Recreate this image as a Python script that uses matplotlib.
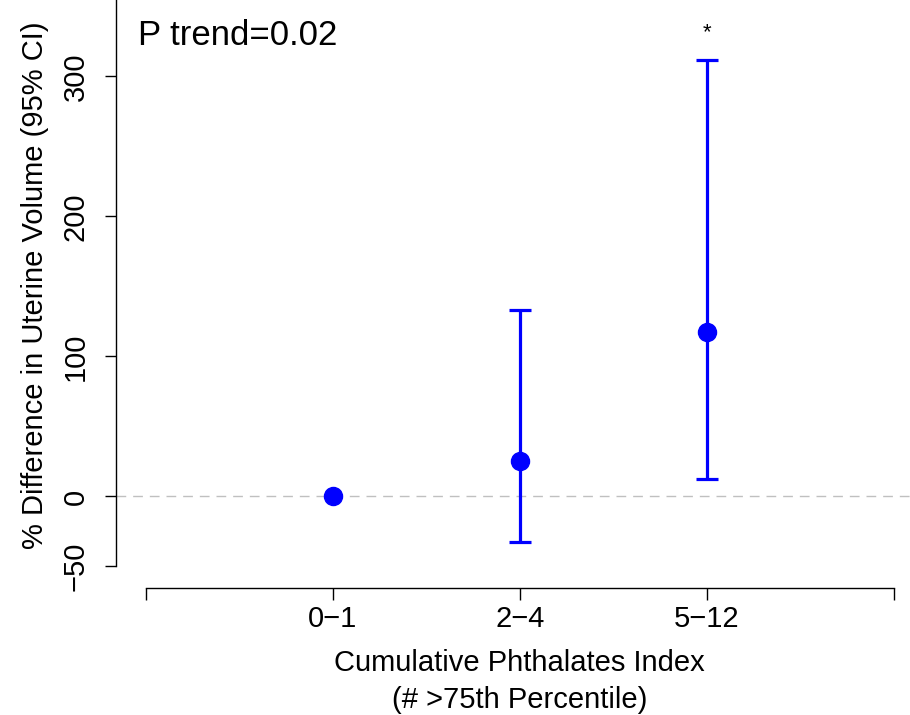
import matplotlib
matplotlib.use('Agg')
import matplotlib.pyplot as plt
import numpy as np

plt.rcParams['font.family'] = ['Liberation Sans', 'DejaVu Sans']

# ── Data ─────────────────────────────────────────────────────────────────────
groups   = ['0\u22121', '2\u22124', '5\u221212']
estimate = [0.0, 25.0, 117.5]
ci_low   = [np.nan, -32.5, 12.7]
ci_high  = [np.nan, 133.0, 312.0]
y_ticks  = [-50, 0, 100, 200, 300]
p_trend  = 'P trend=0.02'

x_pos = np.arange(1, len(groups) + 1)
est = np.array(estimate)
lo = np.array(ci_low)
hi = np.array(ci_high)
has_ci = ~np.isnan(lo)

# ── Figure ───────────────────────────────────────────────────────────────────
fig = plt.figure(figsize=(9.10, 7.15), dpi=100)
ax = fig.add_axes([116 / 910, 127 / 715, 794 / 910, 588 / 715])

ax.axhline(0, color='#c0c0c0', lw=1.0, ls=(0, (7, 5)), zorder=1)

ax.errorbar(x_pos[has_ci], est[has_ci],
            yerr=[est[has_ci] - lo[has_ci], hi[has_ci] - est[has_ci]],
            fmt='none', ecolor='#0000ff', elinewidth=2.3,
            capsize=8, capthick=2.3, zorder=2)
ax.plot(x_pos, est, 'o', color='#0000ff', ms=13, mec='#0000ff', zorder=3)

# significance marker above the last CI
ax.text(3, 331, '*', ha='center', va='center', fontsize=16)

ax.text(-0.04, 322.5, p_trend, ha='left', va='baseline', fontsize=25)

# ── Axes styling (R base-graphics look) ──────────────────────────────────────
ax.set_xlim(-0.16, 4.085)
ax.set_ylim(-65.4, 354.6)

for side in ['top', 'right']:
    ax.spines[side].set_visible(False)
ax.spines['left'].set_bounds(-50, 354.6)
ax.spines['bottom'].set_bounds(0, 4)
for side in ['left', 'bottom']:
    ax.spines[side].set_linewidth(1.0)

ax.set_xticks([0, *x_pos, 4])
ax.set_xticklabels(['', *groups, ''])
ax.set_yticks(y_ticks)
ax.set_yticklabels([str(v).replace('-', '\u2212') for v in y_ticks],
                   rotation=90, va='center')

ax.tick_params(axis='x', length=8.5, width=1.0, pad=3.5, labelsize=21)
ax.tick_params(axis='y', length=8, width=1.0, pad=11, labelsize=21)

ax.set_xlabel('Cumulative Phthalates Index\n(# >75th Percentile)',
              fontsize=21, linespacing=1.45)
ax.xaxis.set_label_coords(0.508, -0.103)
ax.set_ylabel('% Difference in Uterine Volume (95% CI)', fontsize=21)
ax.yaxis.set_label_coords(-0.084, 0.515)

fig.savefig('out.png', dpi=100)
